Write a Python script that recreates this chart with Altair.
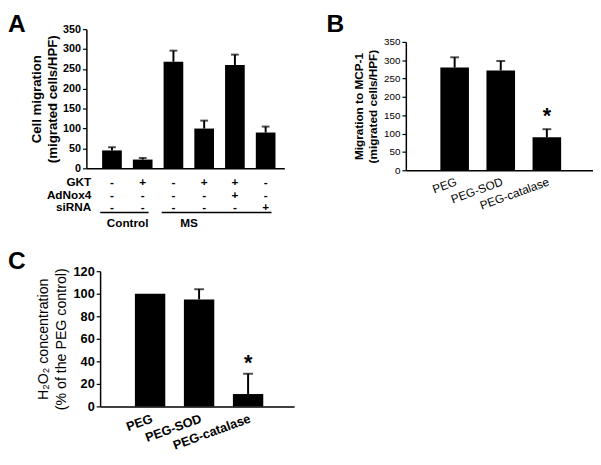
import altair as alt
import pandas as pd

FONT = "Liberation Sans, Arial, Helvetica, sans-serif"

# ---------------- Panel A data ----------------
A_ids = ["1", "2", "3", "4", "5", "6"]
A_values = [45, 22, 268, 100, 260, 90]
A_err_top = [53, 26, 296, 120, 286, 105]
A_gkt = ["-", "+", "-", "+", "+", "-"]
A_adnox4 = ["-", "-", "-", "-", "+", "-"]
A_sirna = ["-", "-", "-", "-", "-", "+"]
A_row_labels = ["GKT", "AdNox4", "siRNA"]
A_group_names = ["Control", "MS"]
A_group_start = ["1", "3"]
A_group_end = ["2", "6"]
A_ticks = [0, 50, 100, 150, 200, 250, 300, 350]

# ---------------- Panel B data ----------------
B_cats = ["PEG", "PEG-SOD", "PEG-catalase"]
B_values = [280, 272, 90]
B_err_top = [308, 298, 112]
B_star_cat = ["PEG-catalase"]
B_star_val = [148]
B_ticks = [0, 50, 100, 150, 200, 250, 300, 350]

# ---------------- Panel C data ----------------
C_cats = ["PEG", "PEG-SOD", "PEG-catalase"]
C_values = [100, 95, 11]
C_err_top = [100, 104, 29]
C_star_cat = ["PEG-catalase"]
C_star_val = [38]
C_ticks = [0, 20, 40, 60, 80, 100, 120]


def letter(ch, dx, dy):
    return alt.Chart(pd.DataFrame({"t": [ch]})).mark_text(
        align="left", baseline="top", fontSize=25, fontWeight="bold", font=FONT, color="black"
    ).encode(x=alt.value(dx), y=alt.value(dy), text="t:N")


def yaxis(values, title, tfs, tfw, tlh, tpad, lfs, lfw, offset=0):
    return alt.Axis(values=values, title=title, titleFontSize=tfs,
                    titleFontWeight=tfw, titleLineHeight=tlh, titlePadding=tpad,
                    labelFontSize=lfs, labelFontWeight=lfw, labelOverlap=False,
                    labelSeparation=0, offset=offset)


# ================= Panel A =================
WA, HA = 202, 142
dfA = pd.DataFrame({"id": A_ids, "value": A_values, "top": A_err_top,
                    "GKT": A_gkt, "AdNox4": A_adnox4, "siRNA": A_sirna})

axA = yaxis(A_ticks, ["Cell migration", "(migrated cells/HPF)"], 13.5, "bold", 16, 3, 11, "bold")
scA = alt.Scale(domain=[0, 350], nice=False)
xA = alt.X("id:N", sort=A_ids,
           scale=alt.Scale(paddingInner=0.36, paddingOuter=0.4, align=0.64),
           axis=alt.Axis(labels=False, ticks=False, title=None))

barsA = alt.Chart(dfA).mark_bar(color="black").encode(x=xA, y=alt.Y("value:Q", scale=scA, axis=axA))
errA = alt.Chart(dfA).mark_rule(color="black", strokeWidth=2).encode(
    x=xA, y=alt.Y("value:Q", scale=scA, axis=axA), y2="top:Q")
capA = alt.Chart(dfA).mark_tick(color="black", size=8, thickness=2).encode(
    x=xA, y=alt.Y("top:Q", scale=scA, axis=axA))

row_layers = []
for i, (lab, field) in enumerate(zip(A_row_labels, ["GKT", "AdNox4", "siRNA"])):
    yy = HA + 14 + i * 13
    row_layers.append(
        alt.Chart(dfA).mark_text(font=FONT, fontSize=12, fontWeight="bold", color="black").encode(
            x=xA, y=alt.value(yy), text=f"{field}:N"))
    row_layers.append(
        alt.Chart(pd.DataFrame({"lab": [lab]})).mark_text(
            font=FONT, fontSize=12, fontWeight="bold", align="right", color="black").encode(
            x=alt.value(5), y=alt.value(yy), text="lab:N"))

dfG = pd.DataFrame({"name": A_group_names, "start": A_group_start, "end": A_group_end})
lineG = alt.Chart(dfG).mark_rule(color="black", strokeWidth=1.5, xOffset=-12, x2Offset=6).encode(
    x=alt.X("start:N", sort=A_ids), x2="end:N", y=alt.value(HA + 45))
textG = alt.Chart(dfG).mark_text(font=FONT, fontSize=12, fontWeight="bold", dx=16, color="black").encode(
    x=alt.X("start:N", sort=A_ids), y=alt.value(HA + 56), text="name:N")

chartA = alt.layer(barsA, errA, capA, *row_layers, lineG, textG,
                   letter("A", -80, -17)).properties(width=WA, height=HA)

# ================= Panel B =================
WB, HB, TOPB = 191, 144, 13
dfB = pd.DataFrame({"cat": B_cats, "value": B_values, "top": B_err_top})
dfBs = pd.DataFrame({"cat": B_star_cat, "star": B_star_val})
axB = yaxis(B_ticks, ["Migration to MCP-1", "(migrated cells/HPF)"], 12, "bold", 15, 4, 10, "normal")
scB = alt.Scale(domain=[0, 350], nice=False, range=[HB, TOPB])
xB = alt.X("cat:N", sort=B_cats,
           scale=alt.Scale(paddingInner=0.38, paddingOuter=0.72, align=0.52),
           axis=alt.Axis(title=None, ticks=False, labelAngle=340, labelAlign="right",
                         labelBaseline="top", labelFontSize=12, labelPadding=6))
barsB = alt.Chart(dfB).mark_bar(color="black").encode(x=xB, y=alt.Y("value:Q", scale=scB, axis=axB))
errB = alt.Chart(dfB).mark_rule(color="black", strokeWidth=2).encode(
    x=xB, y=alt.Y("value:Q", scale=scB, axis=axB), y2="top:Q")
capB = alt.Chart(dfB).mark_tick(color="black", size=9, thickness=2).encode(
    x=xB, y=alt.Y("top:Q", scale=scB, axis=axB))
starB = alt.Chart(dfBs).mark_text(text="*", fontSize=22, fontWeight="bold", font=FONT,
                                  color="black", baseline="middle").encode(
    x=xB, y=alt.Y("star:Q", scale=scB, axis=axB))
chartB = alt.layer(barsB, errB, capB, starB, letter("B", -81, -17)).properties(width=WB, height=HB)

# ================= Panel C =================
WC, HC, LEFTC = 212, 138, 14
dfC = pd.DataFrame({"cat": C_cats, "value": C_values, "top": C_err_top})
dfCe = dfC[dfC["top"] > dfC["value"]]
dfCs = pd.DataFrame({"cat": C_star_cat, "star": C_star_val})
axC = yaxis(C_ticks, ["H\u2082O\u2082 concentration", "(% of the PEG control)"],
            14.5, "normal", 18, 5, 13, "bold", offset=-LEFTC)
scC = alt.Scale(domain=[0, 120], nice=False)
xC = alt.X("cat:N", sort=C_cats,
           scale=alt.Scale(paddingInner=0.38, paddingOuter=0.67, align=0.53, range=[LEFTC, WC]),
           axis=alt.Axis(title=None, ticks=False, labelAngle=340, labelAlign="right",
                         labelBaseline="top", labelFontSize=13, labelFontWeight="bold",
                         labelPadding=6))
barsC = alt.Chart(dfC).mark_bar(color="black").encode(x=xC, y=alt.Y("value:Q", scale=scC, axis=axC))
errC = alt.Chart(dfCe).mark_rule(color="black", strokeWidth=2).encode(
    x=xC, y=alt.Y("value:Q", scale=scC, axis=axC), y2="top:Q")
capC = alt.Chart(dfCe).mark_tick(color="black", size=10, thickness=2).encode(
    x=xC, y=alt.Y("top:Q", scale=scC, axis=axC))
starC = alt.Chart(dfCs).mark_text(text="*", fontSize=22, fontWeight="bold", font=FONT,
                                  color="black", baseline="middle").encode(
    x=xC, y=alt.Y("star:Q", scale=scC, axis=axC))
chartC = alt.layer(barsC, errC, capC, starC, letter("C", -80, -22)).properties(width=WC, height=HC)

chart = alt.concat(
    chartA, chartB, chartC,
    columns=2, spacing={"row": 21, "column": 33},
).properties(padding=0).configure_view(
    stroke=None
).configure_axis(
    grid=False, domainColor="black", domainWidth=1.5, tickColor="black", tickSize=4,
    tickWidth=1.2, labelColor="black", titleColor="black", labelFont=FONT, titleFont=FONT,
    labelPadding=2, labelOverlap=False
).configure_text(font=FONT)

chart.save("out.html", embed_options={"renderer": "svg", "actions": False})
